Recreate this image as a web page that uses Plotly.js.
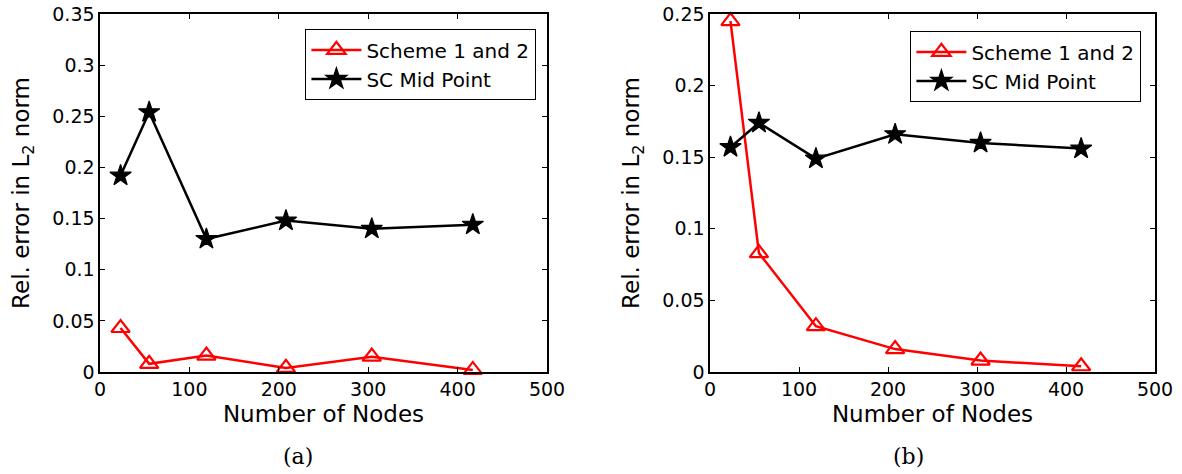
<!DOCTYPE html>
<html>
<head>
<meta charset="utf-8">
<script src="https://cdn.plot.ly/plotly-3.0.1.min.js"></script>
<style>
  html, body { margin: 0; padding: 0; background: #fff; }
  #chart { width: 1182px; height: 474px; }
</style>
</head>
<body>
<div id="chart"></div>
<script>
// Number of nodes used in each discretisation
const nodes = [23, 55, 119, 208, 304, 417];

// (a) relative L2 errors
const schemeA = [0.043, 0.008, 0.016, 0.004, 0.015, 0.002];
const midA    = [0.192, 0.254, 0.130, 0.148, 0.140, 0.144];

// (b) relative L2 errors
const schemeB = [0.245, 0.083, 0.032, 0.016, 0.008, 0.004];
const midB    = [0.157, 0.174, 0.149, 0.166, 0.160, 0.156];

const seriesNames = ['Scheme 1 and 2', 'SC Mid Point'];
const xTicks = [0, 100, 200, 300, 400, 500];
const captions = ['(a)', '(b)'];

const SANS = 'DejaVu Sans, Arial, sans-serif';
const RED = '#ff0000';
const BLACK = '#000000';

function schemeTrace(y, xa, ya, leg) {
  return {
    x: nodes, y: y, xaxis: xa, yaxis: ya, legend: leg,
    name: seriesNames[0], type: 'scatter', mode: 'lines+markers',
    line: { color: RED, width: 2.5 },
    marker: { symbol: 'triangle-up-open', size: 16, color: RED, line: { color: RED, width: 2.2 } },
    cliponaxis: false
  };
}
function midTrace(y, xa, ya, leg) {
  return {
    x: nodes, y: y, xaxis: xa, yaxis: ya, legend: leg,
    name: seriesNames[1], type: 'scatter', mode: 'lines+markers',
    line: { color: BLACK, width: 2.5 },
    marker: { symbol: 'star', size: 16, color: BLACK, line: { color: BLACK, width: 1.2 } },
    cliponaxis: false
  };
}

const data = [
  schemeTrace(schemeA, 'x', 'y', 'legend'),
  midTrace(midA, 'x', 'y', 'legend'),
  schemeTrace(schemeB, 'x2', 'y2', 'legend2'),
  midTrace(midB, 'x2', 'y2', 'legend2')
];

function xAxis(domain, anchor) {
  return {
    domain: domain, anchor: anchor, range: [0, 500],
    tickvals: xTicks, ticktext: xTicks.map(String),
    ticks: 'inside', ticklen: 5, tickwidth: 1, tickcolor: BLACK,
    showline: true, linecolor: BLACK, linewidth: 1.6, mirror: 'ticks',
    showgrid: false, zeroline: false,
    tickfont: { family: SANS, size: 19, color: BLACK },
    title: { text: 'Number of Nodes', font: { family: SANS, size: 23, color: BLACK }, standoff: 6 }
  };
}
function yAxis(anchor, top) {
  return {
    anchor: anchor, range: [0, top], dtick: 0.05, tick0: 0,
    ticks: 'inside', ticklen: 5, tickwidth: 1, tickcolor: BLACK,
    showline: true, linecolor: BLACK, linewidth: 1.6, mirror: 'ticks',
    showgrid: false, zeroline: false,
    tickfont: { family: SANS, size: 19, color: BLACK },
    title: { text: 'Rel. error in L<sub>2</sub> norm', font: { family: SANS, size: 23, color: BLACK }, standoff: 16 }
  };
}
function legendBox(x, y) {
  return {
    x: x, y: y, xanchor: 'left', yanchor: 'top', xref: 'paper', yref: 'paper',
    bgcolor: '#ffffff', bordercolor: BLACK, borderwidth: 1.4,
    font: { family: SANS, size: 20, color: BLACK },
    itemwidth: 50, tracegroupgap: 0
  };
}

const W = 1182, H = 474;
const M = { l: 100, r: 27, t: 14, b: 102 };
const PW = W - M.l - M.r, PH = H - M.t - M.b;
const px = v => (v - M.l) / PW;
const py = v => (H - M.b - v) / PH;

const layout = {
  width: W, height: H,
  margin: M,
  paper_bgcolor: '#ffffff', plot_bgcolor: '#ffffff',
  showlegend: true,
  xaxis: xAxis([0, px(547)], 'y'),
  yaxis: yAxis('x', 0.35),
  xaxis2: xAxis([px(710), 1], 'y2'),
  yaxis2: yAxis('x2', 0.25),
  legend: legendBox(px(305), py(29)),
  legend2: legendBox(px(910), py(31)),
  annotations: [
    { text: captions[0], xref: 'paper', yref: 'paper', x: px(298), y: py(457),
      xanchor: 'center', yanchor: 'middle', showarrow: false,
      font: { family: 'DejaVu Serif, Liberation Serif, serif', size: 22, color: BLACK } },
    { text: captions[1], xref: 'paper', yref: 'paper', x: px(908), y: py(457),
      xanchor: 'center', yanchor: 'middle', showarrow: false,
      font: { family: 'DejaVu Serif, Liberation Serif, serif', size: 22, color: BLACK } }
  ]
};

Plotly.newPlot('chart', data, layout, { staticPlot: true, displayModeBar: false });
</script>
</body>
</html>
